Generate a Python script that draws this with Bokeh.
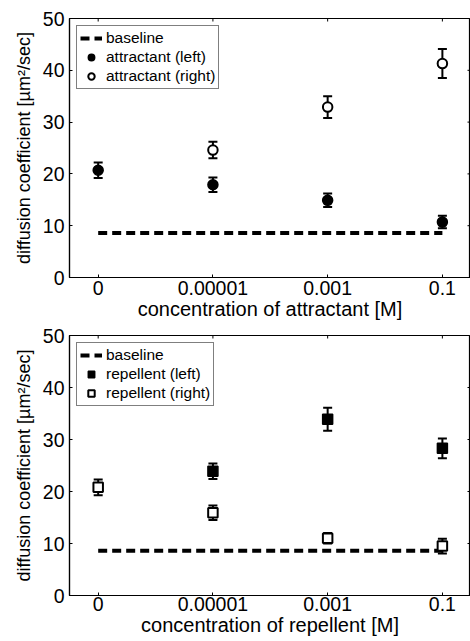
import math
from bokeh.plotting import figure
from bokeh.models import Legend, LegendItem, FixedTicker, Range1d
from bokeh.layouts import column
from bokeh.embed import file_html
from bokeh.resources import INLINE

# ---------------- data ----------------
conc_labels = ["0", "0.00001", "0.001", "0.1"]
conc_pos = [0, 1, 2, 3]
baseline_value = 8.6

att_left_x = [0, 1, 2, 3]
att_left = [20.7, 17.9, 14.9, 10.7]
att_left_err = [1.5, 1.4, 1.3, 1.2]
att_right_x = [1, 2, 3]
att_right = [24.6, 32.9, 41.3]
att_right_err = [1.6, 2.1, 2.8]

rep_left_x = [1, 2, 3]
rep_left = [23.9, 33.9, 28.3]
rep_left_err = [1.5, 2.2, 1.9]
rep_right_x = [0, 1, 2, 3]
rep_right = [20.8, 15.9, 11.0, 9.5]
rep_right_err = [1.5, 1.4, 1.0, 1.4]

y_ticks = [0, 10, 20, 30, 40, 50]
X_MIN, X_MAX = -0.25, 3.245
Y_MIN, Y_MAX = 0, 50

FONT = "Liberation Sans"


def errorbars(p, xs, ys, errs):
    lo = [y - e for y, e in zip(ys, errs)]
    hi = [y + e for y, e in zip(ys, errs)]
    p.segment(x0=xs, y0=lo, x1=xs, y1=hi, line_color="black", line_width=2)
    p.scatter(x=xs, y=lo, marker="dash", size=9, line_color="black", line_width=2)
    p.scatter(x=xs, y=hi, marker="dash", size=9, line_color="black", line_width=2)


def panel(xlabel, left, right, marker, labels, height, top_border, bottom_border,
          tick_standoff, xlabel_standoff):
    p = figure(width=470, height=height,
               x_range=Range1d(X_MIN, X_MAX), y_range=Range1d(Y_MIN, Y_MAX),
               output_backend="svg", toolbar_location=None,
               min_border_left=69, min_border_right=0,
               min_border_top=top_border, min_border_bottom=bottom_border)
    p.grid.visible = False
    p.outline_line_color = "black"
    p.outline_line_width = 1.2
    p.background_fill_color = "white"
    p.border_fill_color = "white"

    p.xaxis.ticker = FixedTicker(ticks=conc_pos)
    p.xaxis.major_label_overrides = {pos: lab for pos, lab in zip(conc_pos, conc_labels)}
    p.yaxis.ticker = FixedTicker(ticks=y_ticks)
    for ax in (p.xaxis, p.yaxis):
        ax.major_tick_in = 3
        ax.major_tick_out = 0
        ax.minor_tick_line_color = None
        ax.axis_line_color = "black"
        ax.axis_line_width = 1.2
        ax.major_tick_line_width = 1
        ax.major_label_text_font = FONT
        ax.major_label_text_color = "black"
        ax.axis_label_text_font = FONT
        ax.axis_label_text_font_style = "normal"
        ax.axis_label_text_color = "black"
    p.xaxis.major_label_text_font_size = "19.5px"
    p.yaxis.major_label_text_font_size = "19.5px"
    p.xaxis.axis_label = xlabel
    p.xaxis.axis_label_text_font_size = "20px"
    p.xaxis.major_label_standoff = tick_standoff
    p.xaxis.axis_label_standoff = xlabel_standoff
    p.yaxis.axis_label = "diffusion coefficient [\u00b5m\u00b2/sec]"
    p.yaxis.axis_label_text_font_size = "18px"
    p.yaxis.major_label_standoff = 5
    p.yaxis.axis_label_standoff = 6

    # inward ticks on the top and right edges of the box
    p.scatter(x=conc_pos, y=[Y_MAX] * len(conc_pos), marker="dash", angle=math.pi / 2,
              size=6, line_color="black", line_width=1)
    p.scatter(x=[X_MAX] * len(y_ticks), y=y_ticks, marker="dash",
              size=6, line_color="black", line_width=1)

    base = p.line(x=[conc_pos[0], conc_pos[-1]], y=[baseline_value, baseline_value],
                  line_color="black", line_width=4, line_dash="9 5")

    lx, ly, le = left
    rx, ry, re_ = right
    errorbars(p, lx, ly, le)
    errorbars(p, rx, ry, re_)
    r_left = p.scatter(x=lx, y=ly, marker=marker, size=10, fill_color="black",
                       line_color="black", line_width=1.5)
    r_right = p.scatter(x=rx, y=ry, marker=marker, size=9.5, fill_color="white",
                        line_color="black", line_width=2)

    legend = Legend(items=[LegendItem(label=labels[0], renderers=[base]),
                           LegendItem(label=labels[1], renderers=[r_left]),
                           LegendItem(label=labels[2], renderers=[r_right])],
                    location="top_left")
    legend.margin = 7
    legend.padding = 3
    legend.spacing = 1
    legend.label_height = 16
    legend.glyph_height = 16
    legend.glyph_width = 22
    legend.label_standoff = 4
    legend.label_text_font = FONT
    legend.label_text_font_size = "15.5px"
    legend.label_text_color = "black"
    legend.border_line_color = "black"
    legend.border_line_width = 1
    legend.background_fill_alpha = 1
    p.add_layout(legend)
    return p


p1 = panel("concentration of attractant [M]",
           (att_left_x, att_left, att_left_err),
           (att_right_x, att_right, att_right_err),
           "circle", ["baseline", "attractant (left)", "attractant (right)"],
           325, 18, 48, 3, 0)
p2 = panel("concentration of repellent [M]",
           (rep_left_x, rep_left, rep_left_err),
           (rep_right_x, rep_right, rep_right_err),
           "square", ["baseline", "repellent (left)", "repellent (right)"],
           316, 10, 46, 1, 0)

layout = column(p1, p2, spacing=0)
open("out.html", "w").write(file_html(layout, INLINE))
